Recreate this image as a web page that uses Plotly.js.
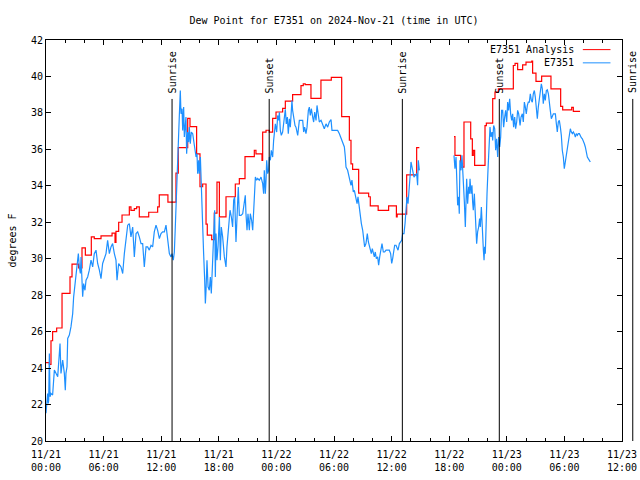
<!DOCTYPE html>
<html>
<head>
<meta charset="utf-8">
<script src="https://cdn.plot.ly/plotly-3.0.1.min.js"></script>
<style>html,body{margin:0;padding:0;background:#fff}#chart{width:640px;height:480px}</style>
</head>
<body>
<div id="chart"></div>
<script>
// ---- data: hours since 2024-11-21 00:00 UTC, dew point (deg F) ----
const obsHours1 = [0.00,0.17,0.24,0.28,0.35,0.42,0.52,0.69,0.87,1.04,1.22,1.39,1.46,1.56,1.74,1.91,2.01,2.08,2.19,2.26,2.43,2.60,2.78,2.88,3.02,3.13,3.30,3.37,3.47,3.58,3.65,3.75,3.82,3.92,4.06,4.17,4.34,4.51,4.69,4.86,5.03,5.21,5.38,5.56,5.73,5.90,6.08,6.25,6.42,6.60,6.77,6.94,7.12,7.29,7.40,7.57,7.81,7.99,8.16,8.33,8.51,8.68,8.85,9.03,9.20,9.38,9.55,9.72,9.90,10.07,10.24,10.42,10.59,10.76,10.94,11.11,11.28,11.46,11.63,11.81,11.98,12.15,12.33,12.50,12.67,12.85,13.02,13.13,13.26,13.37,13.47,13.61,13.72,13.82,13.89,13.99,14.06,14.17,14.24,14.34,14.41,14.51,14.58,14.65,14.76,14.86,14.93,15.03,15.14,15.28,15.45,15.63,15.73,15.80,15.90,15.97,16.08,16.18,16.32,16.42,16.53,16.60,16.67,16.77,16.88,17.01,17.12,17.22,17.36,17.47,17.57,17.64,17.71,17.81,17.92,18.06,18.16,18.26,18.40,18.58,18.75,18.85,19.03,19.17,19.31,19.44,19.55,19.65,19.79,19.90,20.03,20.14,20.31,20.49,20.66,20.76,
20.83,20.94,21.04,21.18,21.28,21.42,21.53,21.60,21.70,21.81,21.94,22.05,22.22,22.40,22.57,22.67,22.74,22.85,22.92,22.99,23.09,23.19,23.26,23.37,23.47,23.61,23.71,23.82,23.89,24.03,24.13,24.24,24.31,24.41,24.51,24.65,24.79,24.93,25.03,25.14,25.24,25.35,25.45,25.55,25.62,25.69,25.80,25.94,26.04,26.22,26.39,26.56,26.74,26.84,26.94,27.08,27.19,27.33,27.43,27.53,27.64,27.78,27.88,27.99,28.13,28.23,28.33,28.47,28.65,28.82,28.99,29.17,29.34,29.51,29.69,29.79,30.03,30.38,30.56,30.73,30.90,31.08,31.18,31.25,31.42,31.60,31.77,31.87,32.01,32.12,32.29,32.40,32.50,32.64,32.74,32.85,32.99,33.09,33.19,33.33,33.47,33.58,33.68,33.78,33.89,33.99,34.10,34.20,34.30,34.41,34.55,34.65,34.76,34.90,35.00,35.14,35.28,35.42,35.59,35.76,35.90,36.01,36.11,36.22,36.32,36.46,36.56,36.67,36.81,36.94,37.05,37.15,37.29,37.40,37.50,37.60,37.71,37.85,37.92,38.02,38.13,38.19,38.33,38.47,38.61,38.71,38.78,38.89];
const obsDew1 = [21.52,22.61,22.06,22.25,24.80,22.43,22.61,22.52,23.89,23.71,23.53,24.80,25.35,23.71,24.44,23.71,22.79,23.71,24.07,25.63,25.81,26.26,26.99,27.91,28.64,29.19,29.74,30.28,29.55,29.19,30.10,28.46,27.91,28.64,28.27,28.82,29.00,29.37,29.92,29.55,30.28,30.47,29.74,29.37,28.91,29.74,30.10,30.28,31.01,30.28,30.65,30.83,30.28,29.92,28.82,29.74,29.55,29.19,30.28,31.01,31.84,31.93,31.20,31.74,30.10,31.38,31.47,31.20,30.83,30.83,29.55,30.65,30.65,30.47,30.74,30.65,31.47,31.84,31.56,31.10,31.38,31.47,31.47,31.84,31.01,30.28,30.10,30.28,29.92,30.37,31.74,33.94,36.49,36.86,37.86,39.23,37.95,38.23,37.04,38.32,36.68,37.22,37.77,35.76,36.95,36.40,37.22,36.31,36.95,36.86,36.13,35.58,35.76,34.67,35.40,34.67,35.58,33.57,31.56,30.28,28.82,27.54,28.27,29.92,28.46,28.27,29.00,28.09,29.92,31.38,32.66,29.00,31.38,29.92,30.65,32.29,29.92,31.74,31.20,30.10,29.55,30.65,32.11,32.66,32.29,31.74,33.21,33.39,30.92,32.84,33.94,32.38,32.38,32.47,33.02,33.48,
32.47,31.56,32.47,31.56,32.47,32.11,31.56,32.47,33.02,34.48,34.31,34.40,34.31,34.48,34.12,33.57,34.85,33.57,34.31,35.40,34.67,34.85,35.58,35.40,35.95,35.58,36.49,36.95,37.40,36.95,37.86,37.59,38.04,37.04,36.77,36.95,37.59,38.20,37.40,37.77,36.86,37.68,37.22,38.14,38.68,38.14,37.68,37.31,37.22,36.77,37.59,37.59,37.59,36.95,37.22,36.86,37.22,38.14,38.32,37.86,38.23,37.77,37.50,38.04,37.59,38.41,37.86,37.50,37.59,37.40,37.13,37.40,37.22,37.50,37.63,37.04,37.04,37.04,36.86,36.58,36.40,36.13,35.58,35.03,34.85,34.31,34.03,34.31,33.66,33.75,33.39,33.02,33.39,32.66,32.29,31.93,31.56,31.01,30.65,30.83,31.38,30.92,30.65,30.37,30.28,30.56,30.28,30.10,30.37,30.01,30.10,29.64,30.10,30.47,30.83,30.37,30.37,30.47,30.47,30.47,30.28,29.74,30.01,30.47,30.74,30.74,30.56,30.47,30.83,30.92,31.01,31.38,31.38,31.93,32.66,33.39,33.02,33.75,34.48,35.31,35.03,34.76,34.48,34.58,34.67,34.03,35.40,34.85];
const obsHours2 = [42.50,42.60,42.71,42.78,42.88,42.98,43.05,43.12,43.23,43.33,43.40,43.47,43.58,43.68,43.75,43.82,43.92,44.03,44.10,44.17,44.27,44.37,44.44,44.51,44.62,44.72,44.79,44.86,44.96,45.07,45.17,45.24,45.35,45.42,45.48,45.56,45.63,45.69,45.76,45.83,45.94,46.04,46.15,46.25,46.35,46.46,46.53,46.63,46.74,46.84,46.94,47.05,47.15,47.26,47.36,47.46,47.57,47.67,47.78,47.88,47.99,48.09,48.19,48.30,48.40,48.51,48.61,48.71,48.82,48.92,49.03,49.13,49.24,49.38,49.48,49.62,49.72,49.83,49.93,50.03,50.14,50.24,50.35,50.45,50.56,50.66,50.76,50.87,50.97,51.08,51.18,51.28,51.39,51.49,51.60,51.70,51.80,51.91,52.01,52.12,52.22,52.33,52.43,52.53,52.64,52.74,52.85,52.95,53.06,53.16,53.26,53.37,53.47,53.58,53.68,53.78,53.89,53.99,54.10,54.20,54.31,54.41,54.51,54.62,54.72,54.83,54.93,55.03,55.14,55.24,55.35,55.45,55.56,55.66,55.76,55.87,55.97,56.08,56.18,56.28,56.39,56.49,56.60,56.70];
const obsDew2 = [35.67,34.94,35.58,34.03,32.93,33.39,32.47,35.40,34.85,35.67,35.03,34.76,33.11,31.74,33.57,34.39,33.02,33.94,33.57,34.39,33.57,34.03,33.11,32.66,33.57,32.66,31.38,30.83,31.47,31.74,32.20,31.74,32.84,31.74,31.29,30.47,29.92,30.65,30.28,32.11,33.57,34.85,36.13,37.22,36.68,36.95,36.49,37.31,37.13,35.95,36.58,35.58,36.68,36.13,36.68,38.14,38.14,37.22,37.77,38.14,37.50,38.59,38.14,38.78,37.95,37.59,37.95,37.22,37.77,37.13,37.50,38.14,37.95,37.31,37.77,37.95,37.50,38.59,38.32,37.95,38.41,38.59,38.59,39.05,38.68,38.59,39.05,39.23,38.87,38.05,37.68,38.32,38.68,39.05,39.60,39.32,38.50,39.05,38.68,39.23,39.27,39.05,38.32,38.14,37.68,37.86,37.95,37.95,37.95,37.41,36.95,37.50,37.59,37.22,36.77,35.95,35.58,34.94,35.31,35.58,35.95,36.40,36.86,37.13,36.95,36.86,36.95,36.86,36.68,36.86,36.77,36.86,36.86,36.71,36.64,36.58,36.49,36.31,36.13,35.76,35.58,35.49,35.40,35.31];

const anaHours1 = [0.00,0.35,0.52,0.69,1.11,1.67,2.50,2.71,3.40,3.75,4.10,4.72,5.03,5.73,6.88,7.19,7.29,7.57,7.92,8.68,8.85,9.20,9.44,9.72,10.70,11.63,11.80,12.70,13.54,13.78,14.76,15.00,15.69,16.04,16.32,16.67,16.80,17.26,17.53,17.81,18.06,18.75,19.72,20.14,20.73,21.70,21.87,22.50,22.57,22.92,23.26,23.61,23.96,24.65,24.93,25.69,26.56,26.80,27.00,27.60,28.64,29.72,30.80,31.60,31.77,31.94,32.57,33.61,33.78,34.60,35.69,36.50,36.58,37.57,38.61,38.89];
const anaDew1 = [24.3,24.2,25.5,26.0,26.2,28.1,29.0,29.7,29.5,30.6,30.2,31.2,31.1,31.25,31.4,30.9,31.5,32.0,32.4,32.85,32.65,32.75,32.85,32.3,32.55,32.85,33.5,33.1,34.7,36.1,37.7,37.25,35.75,33.95,34.1,31.9,31.3,31.05,32.5,34.2,32.3,33.4,34.1,34.4,35.6,35.95,35.75,35.4,36.95,37.05,36.95,37.7,38.05,38.25,38.65,39.0,39.5,39.6,39.55,38.8,39.8,39.95,37.8,36.5,35.2,34.9,33.6,33.4,32.9,32.65,32.9,32.3,32.45,34.6,36.1,36.1];
const anaHours2 = [42.50,42.60,43.19,43.54,44.24,44.41,44.51,44.65,45.73,45.87,46.53,46.77,47.12,48.68,48.86,49.13,49.65,50.00,50.60,50.69,51.04,51.63,52.60,53.61,53.82,54.76,54.93,55.63];
const anaDew2 = [36.7,35.67,35.03,37.5,36.58,35.67,35.95,35.12,37.3,37.44,38.78,39.14,39.32,40.6,40.72,40.37,40.64,40.79,40.84,40.18,39.73,40.02,39.32,38.36,38.17,38.3,38.08,38.08];

const sunHours = [13.13, 23.25, 37.12, 47.22, 61.12];
const sunLabels = ['Sunrise', 'Sunset', 'Sunrise', 'Sunset', 'Sunrise'];

const tickHours = [0, 6, 12, 18, 24, 30, 36, 42, 48, 54, 60];
const tickLabels = ['11/21<br>00:00','11/21<br>06:00','11/21<br>12:00','11/21<br>18:00','11/22<br>00:00','11/22<br>06:00','11/22<br>12:00','11/22<br>18:00','11/23<br>00:00','11/23<br>06:00','11/23<br>12:00'];

const seriesNames = ['E7351 Analysis', 'E7351'];
const seriesColors = ['#ff0000', '#1e90ff'];
const xRangeHours = [0, 60];

// ---- build ----
const base = Date.UTC(2024, 10, 21, 0, 0, 0);
const toMs = h => base + h * 3600000;
const FONT = 'DejaVu Sans Mono, monospace';

const joinX = (a, b) => a.map(toMs).concat([null], b.map(toMs));
const joinY = (a, b) => a.concat([null], b);

const traces = [
  {x: joinX(anaHours1, anaHours2), y: joinY(anaDew1, anaDew2), type: 'scatter', mode: 'lines',
   line: {color: seriesColors[0], width: 1.2, shape: 'hv'}, name: seriesNames[0], connectgaps: false, hoverinfo: 'skip'},
  {x: joinX(obsHours1, obsHours2), y: joinY(obsDew1, obsDew2), type: 'scatter', mode: 'lines',
   line: {color: seriesColors[1], width: 1.2}, name: seriesNames[1], connectgaps: false, hoverinfo: 'skip'}
];

const shapes = [];
const annotations = [];
const span = xRangeHours[1] - xRangeHours[0];
sunHours.forEach((h, i) => {
  const inside = h >= xRangeHours[0] && h <= xRangeHours[1];
  const xr = inside ? 'x' : 'paper';
  const xv = inside ? toMs(h) : (h - xRangeHours[0]) / span;
  shapes.push({type: 'line', xref: xr, yref: 'paper', x0: xv, x1: xv, y0: 0, y1: 0.853,
    line: {color: '#000', width: 1}, layer: 'above'});
  annotations.push({xref: xr, yref: 'paper', x: xv, y: 0.862, text: sunLabels[i], textangle: -90,
    showarrow: false, xanchor: 'center', yanchor: 'bottom', font: {family: FONT, size: 10, color: '#000'}});
});

// legend drawn gnuplot-style (text left of sample)
const legY = [0.976, 0.943];
seriesNames.forEach((n, i) => {
  annotations.push({xref: 'paper', yref: 'paper', x: 0.920, y: legY[i], text: n, showarrow: false,
    xanchor: 'right', yanchor: 'middle', font: {family: FONT, size: 10, color: '#000'}});
  shapes.push({type: 'line', xref: 'paper', yref: 'paper', x0: 0.932, x1: 0.980, y0: legY[i], y1: legY[i],
    line: {color: seriesColors[i], width: 1}});
});

const axisCommon = {
  showline: true, linecolor: '#000', linewidth: 1, mirror: 'allticks',
  ticks: 'inside', tickcolor: '#000', tickwidth: 1, showgrid: false, zeroline: false,
  tickfont: {family: FONT, size: 10, color: '#000'}
};

const layout = {
  width: 640, height: 480,
  margin: {l: 46, r: 18, t: 40, b: 39},
  paper_bgcolor: '#fff', plot_bgcolor: '#fff',
  showlegend: false,
  title: {text: 'Dew Point for E7351 on 2024-Nov-21 (time in UTC)', font: {family: FONT, size: 10, color: '#000'},
          x: 0.5, xref: 'paper', y: 0.958, yref: 'container', yanchor: 'middle'},
  xaxis: Object.assign({}, axisCommon, {
    type: 'date', range: [toMs(xRangeHours[0]), toMs(xRangeHours[1])],
    tickmode: 'array', tickvals: tickHours.map(toMs), ticktext: tickLabels, ticklen: 5,
    ticklabelstandoff: 4,
    minor: {tickmode: 'linear', tick0: toMs(0), dtick: 7200000, ticks: 'inside', ticklen: 3, tickcolor: '#000', showgrid: false}
  }),
  yaxis: Object.assign({}, axisCommon, {
    range: [20, 42], tick0: 20, dtick: 2, ticklen: 5,
    title: {text: 'degrees F', font: {family: FONT, size: 10, color: '#000'}, standoff: 12}
  }),
  shapes: shapes,
  annotations: annotations
};

Plotly.newPlot('chart', traces, layout, {staticPlot: true, displayModeBar: false});
</script>
</body>
</html>
